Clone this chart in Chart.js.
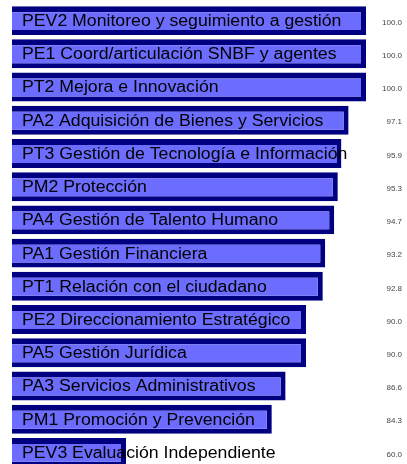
<!DOCTYPE html>
<html>
<head>
<meta charset="utf-8">
<script src="https://cdn.jsdelivr.net/npm/chart.js@4/dist/chart.umd.min.js"></script>
<style>
    html, body { margin: 0; padding: 0; background: #fff; overflow: hidden; }
    #wrap { position: relative; width: 407px; height: 472px; }
</style>
</head>
<body>
<div id="wrap"><canvas id="procesosChart"></canvas></div>
<script>
var procesos = [
    'PEV2 Monitoreo y seguimiento a gestión',
    'PE1 Coord/articulación SNBF y agentes',
    'PT2 Mejora e Innovación',
    'PA2 Adquisición de Bienes y Servicios',
    'PT3 Gestión de Tecnología e Información',
    'PM2 Protección',
    'PA4 Gestión de Talento Humano',
    'PA1 Gestión Financiera',
    'PT1 Relación con el ciudadano',
    'PE2 Direccionamiento Estratégico',
    'PA5 Gestión Jurídica',
    'PA3 Servicios Administrativos',
    'PM1 Promoción y Prevención',
    'PEV3 Evaluación Independiente'
];
var cumplimiento = [100.0, 100.0, 100.0, 97.1, 95.9, 95.3, 94.7, 93.2, 92.8, 90.0, 90.0, 86.6, 84.3, 60.0];

document.addEventListener('DOMContentLoaded', function() {
    // nombres dentro de las barras y valores a la derecha
    var textosPlugin = {
        id: 'textos',
        afterDatasetsDraw: function(chart) {
            var ctx = chart.ctx;
            var meta = chart.getDatasetMeta(0);
            meta.data.forEach(function(bar, i) {
                ctx.save();
                ctx.textBaseline = 'middle';
                ctx.fillStyle = '#000';
                ctx.textAlign = 'left';
                ctx.font = '16px "Liberation Sans", Arial, sans-serif';
                ctx.translate(22, bar.y + 1);
                ctx.scale(1.105, 1);
                ctx.fillText(procesos[i], 0, 0);
                ctx.restore();

                ctx.save();
                ctx.textBaseline = 'middle';
                ctx.fillStyle = '#444';
                ctx.textAlign = 'right';
                ctx.font = '8px "Liberation Sans", Arial, sans-serif';
                ctx.fillText(cumplimiento[i].toFixed(1), 402, bar.y + 2);
                ctx.restore();
            });
        }
    };

    var ctx = document.getElementById('procesosChart').getContext('2d');
    var procesosChart = new Chart(ctx, {
        type: 'bar',
        data: {
            labels: procesos,
            datasets: [{
                data: cumplimiento,
                backgroundColor: '#6c6cff',
                borderColor: '#000080',
                borderWidth: { left: 7, right: 5, top: 6, bottom: 5 },
                borderSkipped: false,
                barPercentage: 0.87,
                categoryPercentage: 1.0
            }]
        },
        options: {
            indexAxis: 'y',
            maintainAspectRatio: false,
            animation: false,
            layout: {
                padding: { left: 12, right: 41, top: 4, bottom: 3 }
            },
            scales: {
                x: { display: false, min: 41, max: 100 },
                y: { display: false }
            },
            plugins: {
                legend: { display: false },
                tooltip: { enabled: false }
            }
        },
        plugins: [textosPlugin]
    });
});
</script>
</body>
</html>
